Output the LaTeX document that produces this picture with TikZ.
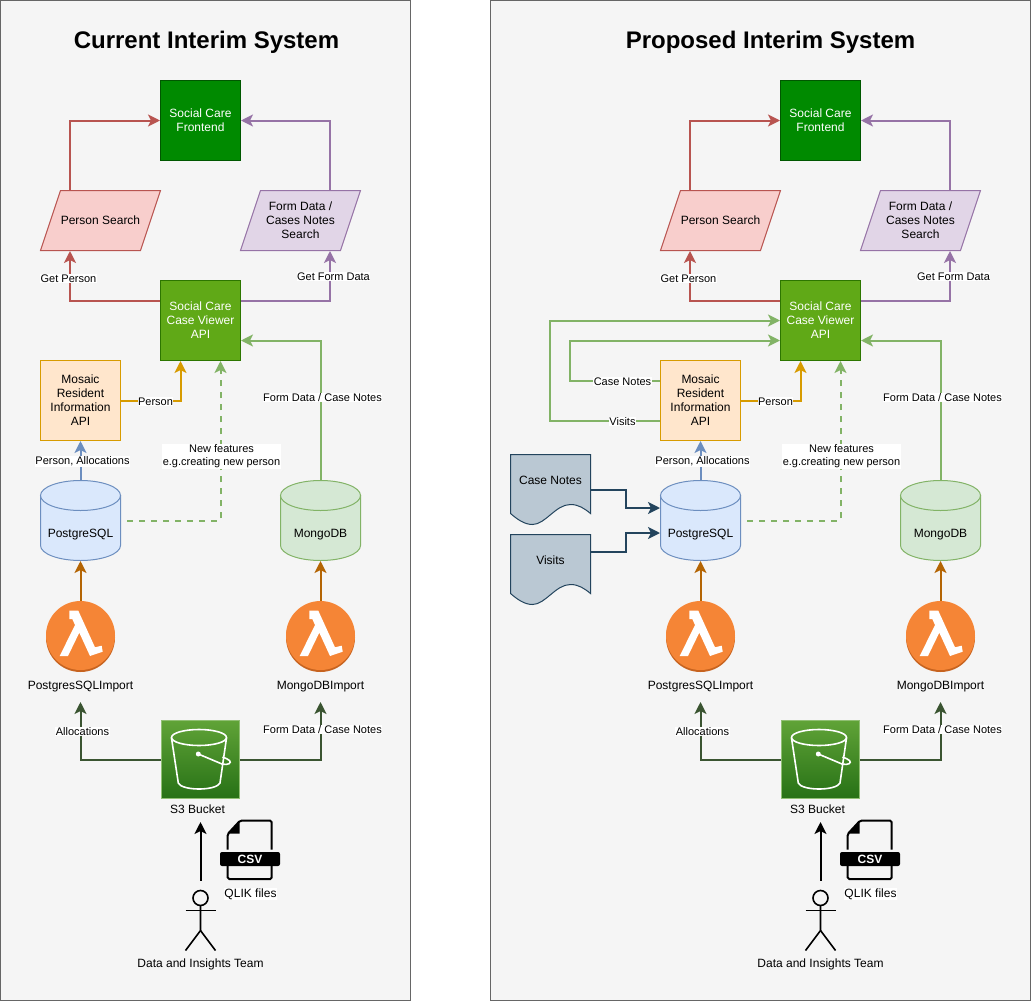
\documentclass[tikz,border=0pt]{standalone}
\usepackage{fontspec}
\setmainfont{Liberation Sans}
\usepackage{xcolor}
\usepackage{tikz}
\usetikzlibrary{arrows.meta}

\definecolor{panelfill}{HTML}{F5F5F5}
\definecolor{panelline}{HTML}{666666}
\definecolor{frontfill}{HTML}{008A00}
\definecolor{frontline}{HTML}{005700}
\definecolor{apifill}{HTML}{60A917}
\definecolor{apiline}{HTML}{2D7600}
\definecolor{redfill}{HTML}{F8CECC}
\definecolor{redline}{HTML}{B85450}
\definecolor{purplefill}{HTML}{E1D5E7}
\definecolor{purpleline}{HTML}{9673A6}
\definecolor{mosaicfill}{HTML}{FFE6CC}
\definecolor{mosaicline}{HTML}{D79B00}
\definecolor{bluefill}{HTML}{DAE8FC}
\definecolor{blueline}{HTML}{6C8EBF}
\definecolor{greenfill}{HTML}{D5E8D4}
\definecolor{greenline}{HTML}{82B366}
\definecolor{lambdaorange}{HTML}{F58536}
\definecolor{lambdaedge}{HTML}{C7631F}
\definecolor{lambdaflow}{HTML}{B46504}
\definecolor{bucketflow}{HTML}{3A5431}
\definecolor{buckettop}{HTML}{60A337}
\definecolor{bucketbottom}{HTML}{277116}
\definecolor{docfill}{HTML}{BAC8D3}
\definecolor{docline}{HTML}{23445D}

\tikzset{
  flow/.style={line width=2pt,-{Stealth[length=12pt,width=12pt,inset=3pt]}},
  boxtext/.style={font=\fontsize{12}{14}\selectfont,align=center,inner sep=0pt},
  squarebox/.style={boxtext,draw,rectangle,minimum width=80,minimum height=80},
  whitebox/.style={squarebox,text=white},
  edgelabel/.style={font=\fontsize{11}{13}\selectfont,align=center,fill=white,inner xsep=0.5pt,inner ysep=0.5pt},
  iconlabel/.style={font=\fontsize{12}{14}\selectfont,align=center,inner sep=0pt},
  dbshape/.style={rectangle,minimum width=80,minimum height=80,inner sep=0pt},
  lambdacirc/.style={circle,fill=lambdaorange,minimum size=69,inner sep=0pt},
  lambdaicon/.pic={
    \fill[white] (-11.2,-24.8) -- (-2.2,-24.8) -- (14.5,11.8) -- (21.2,10.2) -- (22.2,16.2) -- (9.5,20.5)
      -- (-1.2,-2.8) -- (-12.5,20.5) -- (-20.8,20.5) -- (-5.5,-10.5) -- (-8.2,-16.5) -- (-11.2,-16.5) -- cycle;
  },
  pics/dbicon/.style 2 args={code={
    \draw[fill=#1,draw=#2] (-40,-25) -- (-40,25) .. controls (-40,33.3) and (-22,40) .. (0,40)
      .. controls (22,40) and (40,33.3) .. (40,25) -- (40,-25) -- cycle;
    \draw[fill=#1,draw=#2] (0,-25) ellipse (40 and 15);
  }}
}

\begin{document}
\begin{tikzpicture}[x=1pt,y=-1pt,line width=1pt]
  \useasboundingbox (-0.5,-0.5) rectangle (1030.5,1000.5);
  \foreach \px/\pfx/\pleft/\ptx/\ptitle in {0/cur/0/206/Current Interim System, 620/pro/-130/150/Proposed Interim System} {
    \begin{scope}[shift={(\px,0)},name prefix=\pfx-]
      \draw[draw=panelline,fill=panelfill] (\pleft,0) rectangle (410,1000);
      \node[font=\fontsize{24}{28}\selectfont\bfseries] (title) at (\ptx,42) {\ptitle};

      \node[whitebox,fill=frontfill,draw=frontline] (front) at (200,120) {Social Care\\Frontend};
      \node[whitebox,fill=apifill,draw=apiline] (api) at (200,320) {Social Care\\Case Viewer\\API};
      \node[squarebox,fill=mosaicfill,draw=mosaicline] (mosaic) at (80,400) {Mosaic\\Resident\\Information\\API};

      \draw[draw=redline,fill=redfill] (40,250) -- (140,250) -- (160,190) -- (60,190) -- cycle;
      \node[boxtext,minimum width=120,minimum height=60] (search) at (100,220) {Person Search};
      \draw[draw=purpleline,fill=purplefill] (240,250) -- (340,250) -- (360,190) -- (260,190) -- cycle;
      \node[boxtext,minimum width=120,minimum height=60] (formsearch) at (300,220) {Form Data /\\Cases Notes\\Search};

      \pic at (80,520) {dbicon={bluefill}{blueline}};
      \node[dbshape] (pg) at (80,520) {};
      \node[boxtext] (pgtext) at (80,534.5) {PostgreSQL};
      \pic at (320,520) {dbicon={greenfill}{greenline}};
      \node[dbshape] (mongo) at (320,520) {};
      \node[boxtext] (mongotext) at (320,534.5) {MongoDB};

      \foreach \lx/\lname/\lcyl/\ltext in {80/lampg/pg/PostgresSQLImport, 320/lammongo/mongo/MongoDBImport} {
        \fill[lambdaedge] (\lx,637) circle (34.5);
        \node[lambdacirc] (\lname) at (\lx,635) {};
        \pic at (\lname) {lambdaicon};
        \draw[flow,draw=lambdaflow] (\lcyl.south |- \lname.north) -- (\lcyl.south);
        \node[iconlabel,minimum height=30] (\lname label) at (\lx,686) {\ltext};
      }

      \node[rectangle,draw=buckettop!70!white,line width=0.7pt,top color=buckettop,bottom color=bucketbottom,minimum width=78,minimum height=78,inner sep=0pt] (bucket) at (200,759) {};
      \begin{scope}[shift={(-0.5,-0.5)},draw=white,line width=1.6pt]
        \draw (199,737.5) ellipse (27.5 and 8);
        \draw (171.5,738) -- (178.3,783) .. controls (182,791) and (216,791) .. (220,783) -- (226.5,738);
        \draw (198.3,754) -- (222,764) .. controls (228,765.5) and (232,763) .. (229.5,760.5) .. controls (228,759) and (225,758) .. (222.5,757);
        \fill[white] (198.3,754) circle (2.5);
      \end{scope}
      \node[iconlabel,minimum height=24] (bucketlabel) at (197,809) {S3 Bucket};

      \begin{scope}[shift={(-0.5,-0.5)}]
        \draw[line width=2pt,rounded corners=1.5pt] (227.7,849.5) -- (227.7,834) -- (240,820.7) -- (271.7,820.7) -- (271.7,849.5);
        \draw[line width=2pt,rounded corners=1.5pt] (227.7,866) -- (227.7,879) -- (271.7,879) -- (271.7,866);
        \fill (239.5,822) -- (239.5,833.5) -- (228.5,833.5) -- cycle;
      \end{scope}
      \node[rectangle,rounded corners=2pt,fill=black,text=white,font=\fontsize{12}{14}\selectfont\bfseries,minimum width=60,minimum height=14,inner sep=0pt] (csv) at (249.5,858.5) {CSV};
      \node[iconlabel,fill=white,inner xsep=0.5pt,inner ysep=1pt] (qlik) at (250,893.5) {QLIK files};

      \coordinate (actor) at (200,880);
      \draw[line width=1.6pt] (200,897.5) circle (7.5);
      \draw[line width=1.6pt] (200,905) -- (200,930) -- (185,950);
      \draw[line width=1.6pt] (200,930) -- (215,950);
      \draw[line width=1.6pt] (185,910) -- (215,910);
      \node[iconlabel] (actorlabel) at (200,963.5) {Data and Insights Team};

      \draw[flow,draw=redline] ([xshift=30pt]search.north west) |- (front.west);
      \draw[flow,draw=purpleline] ([xshift=90pt]formsearch.north west) |- (front.east);
      \draw[flow,draw=redline] ([yshift=20pt]api.west) -| ([xshift=30pt]search.south west);
      \draw[flow,draw=purpleline] ([yshift=20pt]api.east) -| ([xshift=90pt]formsearch.south west);
      \draw[flow,draw=mosaicline] (mosaic.east) -| ([xshift=-20pt]api.south);
      \draw[flow,draw=blueline] (pg.north) -- (mosaic.south);
      \draw[flow,draw=greenline,dash pattern=on 6pt off 6pt,dash phase=6pt] (pg.east) -| ([xshift=20pt]api.south);
      \draw[flow,draw=greenline] (mongo.north) |- ([yshift=-20pt]api.east);
      \draw[flow,draw=bucketflow] (bucket.west) -| (lampglabel.south);
      \draw[flow,draw=bucketflow] (bucket.east) -| (lammongolabel.south);
      \draw[flow,draw=black] (actor) -- (actor |- bucketlabel.south);

      \node[edgelabel] (getperson) at (68,278) {Get Person};
      \node[edgelabel] (getform) at (333,276) {Get Form Data};
      \node[edgelabel] (personlabel) at (155,401) {Person};
      \node[edgelabel] (allocs) at (82,461) {Person, Allocations};
      \node[edgelabel] (newfeat) at (221,456) {New features\\e.g.creating new person};
      \node[edgelabel] (formcase) at (322,397) {Form Data / Case Notes};
      \node[edgelabel] (bucketalloc) at (82,731) {Allocations};
      \node[edgelabel] (bucketform) at (322,729) {Form Data / Case Notes};
    \end{scope}
  }

  \begin{scope}[name prefix=pro-]
    \draw[flow,draw=greenline] ([yshift=20pt]mosaic.west) -- ++(-90,0) |- ([yshift=-20pt]api.west);
    \draw[flow,draw=greenline] ([yshift=-20pt]mosaic.west) -- ++(-110,0) |- (api.west);
    \node[edgelabel] (casenotes) at (622,381) {Case Notes};
    \node[edgelabel] (visits) at (622,421) {Visits};

    \draw[draw=docline,fill=docfill] (510,454) -- (590,454) -- (590,513) .. controls (584,508) and (578,504) .. (570,504)
      .. controls (555,504) and (545,524) .. (532,524) .. controls (524,524) and (517,519) .. (510,513) -- cycle;
    \node[boxtext,minimum width=80,minimum height=70] (casedoc) at (550,489) {\raisebox{19pt}{Case Notes}};
    \draw[draw=docline,fill=docfill] (510,534) -- (590,534) -- (590,593) .. controls (584,588) and (578,584) .. (570,584)
      .. controls (555,584) and (545,604) .. (532,604) .. controls (524,604) and (517,599) .. (510,593) -- cycle;
    \node[boxtext,minimum width=80,minimum height=70] (visitdoc) at (550,569) {\raisebox{19pt}{Visits}};

    \draw[flow,draw=docline] (casedoc.east) -- ++(35,0) |- ([yshift=12.5pt]pg.west);
    \draw[flow,draw=docline] ([yshift=17.5pt]visitdoc.east) -- ++(35,0) |- ([yshift=-12.5pt]pg.west);
  \end{scope}
\end{tikzpicture}
\end{document}
